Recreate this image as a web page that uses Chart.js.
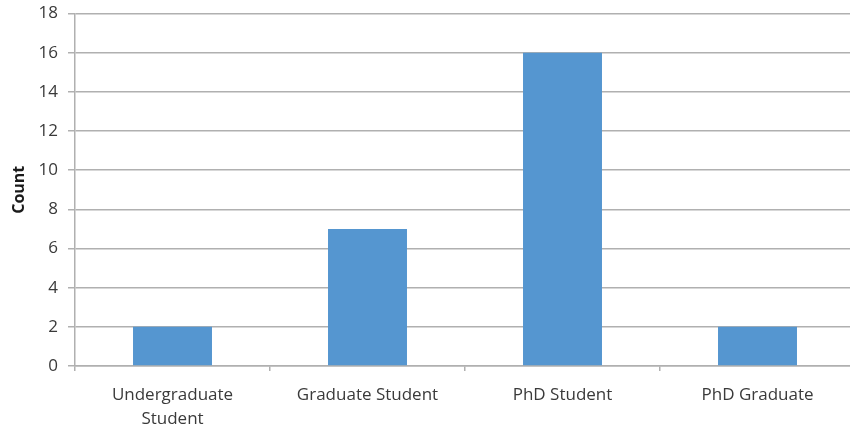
<!DOCTYPE html>
<html>
<head>
<meta charset="utf-8">
<script src="https://cdn.jsdelivr.net/npm/chart.js@4"></script>
<style>
  html, body { margin: 0; padding: 0; background: #fff; overflow: hidden; }
  #wrap { width: 856px; height: 427px; position: relative; }
</style>
</head>
<body>
<div id="wrap"><canvas id="c"></canvas></div>
<script>
const categories = [["Undergraduate", "Student"], "Graduate Student", "PhD Student", "PhD Graduate"];
const counts = [2, 7, 16, 2];
const yTicks = [0, 2, 4, 6, 8, 10, 12, 14, 16, 18];

const gridColor = '#b0b0b0';
const textColor = '#3a3a3a';
const fontFamily = '"Open Sans", "Liberation Sans", sans-serif';

new Chart(document.getElementById('c'), {
  type: 'bar',
  data: {
    labels: categories,
    datasets: [{
      label: 'Count',
      data: counts,
      backgroundColor: '#5596d0',
      borderWidth: 0,
      categoryPercentage: 1,
      barPercentage: 0.405
    }]
  },
  options: {
    responsive: true,
    maintainAspectRatio: false,
    animation: false,
    layout: { padding: { top: 13.5, right: 1, bottom: 0, left: 0 } },
    plugins: { legend: { display: false }, tooltip: { enabled: false } },
    scales: {
      x: {
        grid: { display: true, drawOnChartArea: false, drawTicks: true, tickLength: 5, color: gridColor, lineWidth: 1.5, offset: true },
        border: { display: true, color: gridColor, width: 1.5 },
        ticks: {
          color: textColor,
          font: { family: fontFamily, size: 17, weight: 500, lineHeight: 1.4 },
          padding: 12,
          maxRotation: 0,
          autoSkip: false
        },
        afterFit: (s) => { s.height = 61; s.paddingLeft = 0; s.paddingRight = 0; }
      },
      y: {
        min: 0,
        max: 18,
        afterBuildTicks: (s) => { s.ticks = yTicks.map(v => ({ value: v })); },
        grid: { color: gridColor, lineWidth: 1.5, drawTicks: true, tickLength: 7 },
        border: { display: true, color: gridColor, width: 1.5 },
        ticks: {
          color: textColor,
          font: { family: fontFamily, size: 17, weight: 500 },
          padding: 10
        },
        title: {
          display: true,
          text: 'Count',
          color: '#1a1a1a',
          font: { family: fontFamily, size: 16, weight: 'bold' },
          padding: { top: 10, bottom: 0 }
        },
        afterFit: (s) => { s.width = 75; s.paddingTop = 0; s.paddingBottom = 0; }
      }
    }
  }
});
</script>
</body>
</html>
